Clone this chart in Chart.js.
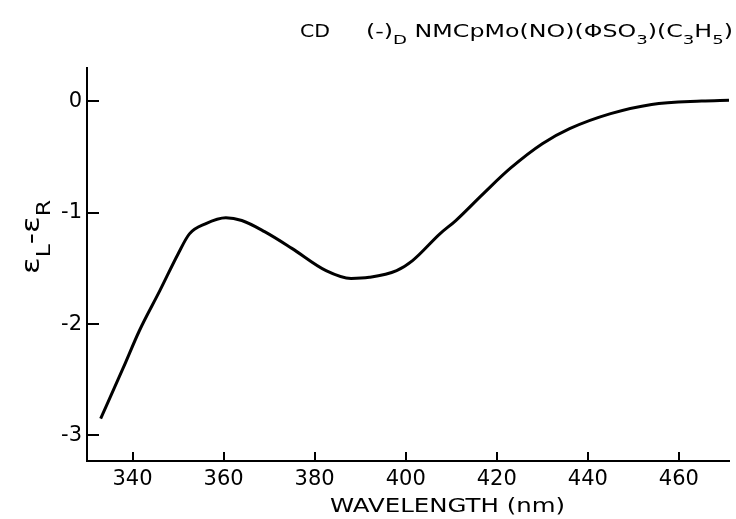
<!DOCTYPE html>
<html>
<head>
<meta charset="utf-8">
<script src="https://cdn.jsdelivr.net/npm/chart.js@4"></script>
<style>
    html, body { margin: 0; padding: 0; background: #fff; }
    canvas { display: block; }
</style>
</head>
<body>
<canvas id="cdChart" width="736" height="519"></canvas>
<script>
// CD spectrum
const wavelengths = [333, 338, 341.5, 346, 350, 352.5, 356, 360.5, 364, 369, 375, 382.5, 388, 392, 398, 401.5, 407.5, 411, 417, 423, 430, 436, 445, 454, 465, 471];
const deltaEps = [-2.85, -2.39, -2.06, -1.70, -1.37, -1.19, -1.10, -1.045, -1.07, -1.17, -1.32, -1.52, -1.59, -1.58, -1.52, -1.43, -1.19, -1.07, -0.83, -0.60, -0.38, -0.245, -0.11, -0.027, 0.003, 0.01];

const xTicks = [340, 360, 380, 400, 420, 440, 460];
const yTicks = [0, -1, -2, -3];
const yTickLabels = ["0", "-1", "-2", "-3"];

const FONT = "'DejaVu Sans', sans-serif";

// draw a run of [text, isSub] pieces, stretched to a target width
function drawRun(ctx, parts, x, y, size, targetW) {
    const subSize = Math.round(size * 0.75);
    let natural = 0;
    parts.forEach(([txt, sub]) => {
        ctx.font = (sub ? subSize : size) + "px " + FONT;
        natural += ctx.measureText(txt).width;
    });
    ctx.save();
    ctx.translate(x, y);
    ctx.scale(targetW / natural, 1);
    let cx = 0;
    parts.forEach(([txt, sub]) => {
        ctx.font = (sub ? subSize : size) + "px " + FONT;
        ctx.fillText(txt, cx, sub ? size * 0.42 : 0);
        cx += ctx.measureText(txt).width;
    });
    ctx.restore();
}

const decorations = {
    id: "decorations",
    afterDraw(chart) {
        const ctx = chart.ctx;
        const xs = chart.scales.x;
        const ys = chart.scales.y;
        const area = chart.chartArea;

        ctx.save();
        ctx.strokeStyle = "#000";
        ctx.lineWidth = 2;
        // inward ticks
        yTicks.forEach(v => {
            const py = Math.round(ys.getPixelForValue(v));
            ctx.beginPath();
            ctx.moveTo(area.left, py);
            ctx.lineTo(area.left + 12, py);
            ctx.stroke();
        });
        xTicks.forEach(v => {
            const px = Math.round(xs.getPixelForValue(v));
            ctx.beginPath();
            ctx.moveTo(px, area.bottom);
            ctx.lineTo(px, area.bottom - 9);
            ctx.stroke();
        });

        ctx.fillStyle = "#000";
        ctx.textBaseline = "alphabetic";
        ctx.textAlign = "left";

        // title
        drawRun(ctx, [["CD", 0]], 300, 37, 17, 30);
        drawRun(ctx, [
            ["(-)", 0], ["D", 1], [" NMCpMo(NO)(\u03A6SO", 0], ["3", 1],
            [")(C", 0], ["3", 1], ["H", 0], ["5", 1], [")", 0]
        ], 366, 37, 17, 367);

        // x axis title
        drawRun(ctx, [["WAVELENGTH (nm)", 0]], 330, 512, 19, 235);

        // y axis title, rotated
        ctx.save();
        ctx.translate(39, 237);
        ctx.rotate(-Math.PI / 2);
        drawRun(ctx, [["\u03B5", 0], ["L", 1], ["-", 0], ["\u03B5", 0], ["R", 1]], -37, 0, 25, 74);
        ctx.restore();

        ctx.restore();
    }
};

new Chart(document.getElementById("cdChart"), {
    type: "line",
    data: {
        datasets: [{
            data: wavelengths.map((w, i) => ({ x: w, y: deltaEps[i] })),
            borderColor: "#000",
            borderWidth: 3,
            pointRadius: 0,
            cubicInterpolationMode: "monotone",
            fill: false
        }]
    },
    options: {
        responsive: false,
        animation: false,
        devicePixelRatio: 1,
        layout: { padding: { left: 0, top: 68, right: 7, bottom: 0 } },
        plugins: {
            legend: { display: false },
            tooltip: { enabled: false }
        },
        scales: {
            x: {
                type: "linear",
                min: 330,
                max: 471,
                afterFit: s => { s.height = 58; },
                afterBuildTicks: s => { s.ticks = xTicks.map(v => ({ value: v })); },
                grid: { display: false, drawTicks: false },
                border: { display: true, color: "#000", width: 2 },
                ticks: {
                    color: "#000",
                    padding: 6,
                    maxRotation: 0,
                    font: { family: FONT, size: 21 }
                }
            },
            y: {
                min: -3.23,
                max: 0.3,
                afterFit: s => { s.width = 87; },
                afterBuildTicks: s => { s.ticks = yTicks.map(v => ({ value: v })); },
                grid: { display: false, drawTicks: false },
                border: { display: true, color: "#000", width: 2 },
                ticks: {
                    color: "#000",
                    padding: 5,
                    font: { family: FONT, size: 21 },
                    callback: v => yTickLabels[yTicks.indexOf(v)]
                }
            }
        }
    },
    plugins: [decorations]
});
</script>
</body>
</html>
